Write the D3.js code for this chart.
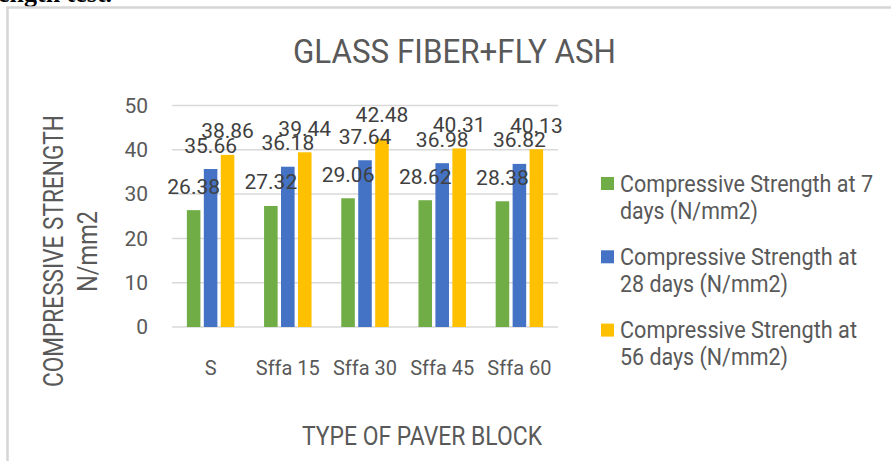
<!DOCTYPE html>
<html>
<head>
<meta charset="utf-8">
<script src="https://d3js.org/d3.v7.min.js"></script>
<style>
body { margin: 0; background: #fff; }
svg { display: block; }
text { font-family: Roboto, "Open Sans", sans-serif; fill: #595959; }
</style>
</head>
<body>
<div id="canvas"></div>
<script>
// data
var categories = ["S", "Sffa 15", "Sffa 30", "Sffa 45", "Sffa 60"];
var seriesNames = ["Compressive Strength at 7 days (N/mm2)",
                   "Compressive Strength at 28 days (N/mm2)",
                   "Compressive Strength at 56 days (N/mm2)"];
var days7  = [26.38, 27.32, 29.06, 28.62, 28.38];
var days28 = [35.66, 36.18, 37.64, 36.98, 36.82];
var days56 = [38.86, 39.44, 42.48, 40.31, 40.13];
var yTicks = [0, 10, 20, 30, 40, 50];
var legendLines = [["Compressive Strength at 7", "days (N/mm2)"],
                   ["Compressive Strength at", "28 days (N/mm2)"],
                   ["Compressive Strength at", "56 days (N/mm2)"]];

var colors = ["#70AD47", "#4472C4", "#FFC000"];
var allSeries = [days7, days28, days56];

var width = 891, height = 461;
var plotLeft = 172, plotRight = 558, plotTop = 105.5, plotBottom = 327;

var svg = d3.select("#canvas").append("svg")
    .attr("width", width).attr("height", height);

svg.append("rect").attr("width", width).attr("height", height).attr("fill", "#fff");

// bit of page text above the chart (cut off)
svg.append("text")
    .attr("x", -2).attr("y", 2)
    .style("font-family", "'Liberation Serif', serif")
    .style("font-weight", "bold")
    .style("font-size", "26px")
    .style("fill", "#000")
    .text("ength test.");

// chart frame
svg.append("rect")
    .attr("x", 7.5).attr("y", 7.5)
    .attr("width", 900).attr("height", 470)
    .attr("fill", "none")
    .attr("stroke", "#d6d6d6")
    .attr("stroke-width", 2.5);

var yScale = d3.scaleLinear().domain([0, 50]).range([plotBottom, plotTop]);
var x0 = d3.scaleBand().domain(categories).range([plotLeft, plotRight])
    .paddingInner(0.385).paddingOuter(0.1925);
var x1 = d3.scaleBand().domain(d3.range(3)).range([0, x0.bandwidth()]).paddingInner(0.2);

// gridlines
svg.append("g").selectAll("line")
    .data(yTicks)
    .enter().append("line")
    .attr("x1", plotLeft).attr("x2", plotRight)
    .attr("y1", function(d) { return yScale(d); })
    .attr("y2", function(d) { return yScale(d); })
    .attr("stroke", "#d9d9d9")
    .attr("stroke-width", 1.5);

// y axis
var yAxis = svg.append("g")
    .attr("transform", "translate(" + plotLeft + ",0)")
    .call(d3.axisLeft(yScale).tickValues(yTicks).tickSize(0).tickPadding(24));
yAxis.select(".domain").remove();
yAxis.selectAll("text")
    .style("font-family", "Roboto, sans-serif")
    .style("font-size", "21px")
    .style("fill", "#595959");

// x axis
var xAxis = svg.append("g")
    .attr("transform", "translate(0," + plotBottom + ")")
    .call(d3.axisBottom(x0).tickSize(0));
xAxis.select(".domain").remove();
xAxis.selectAll("text")
    .attr("y", 48).attr("dy", 0)
    .style("font-family", "Roboto, sans-serif")
    .style("font-size", "20px")
    .style("fill", "#595959");

// bars
var groups = svg.append("g").selectAll("g")
    .data(categories)
    .enter().append("g")
    .attr("transform", function(d) { return "translate(" + x0(d) + ",0)"; });

groups.selectAll("rect")
    .data(function(d, i) { return allSeries.map(function(s, k) { return {k: k, v: s[i]}; }); })
    .enter().append("rect")
    .attr("x", function(d) { return x1(d.k); })
    .attr("width", x1.bandwidth())
    .attr("y", function(d) { return yScale(d.v); })
    .attr("height", function(d) { return plotBottom - yScale(d.v); })
    .attr("fill", function(d) { return colors[d.k]; });

// data labels
groups.selectAll("text.lbl")
    .data(function(d, i) { return allSeries.map(function(s, k) { return {k: k, v: s[i]}; }); })
    .enter().append("text")
    .attr("class", "lbl")
    .attr("x", function(d) { return x1(d.k) + x1.bandwidth() / 2; })
    .attr("y", function(d) { return yScale(d.v) - 16.5; })
    .attr("text-anchor", "middle")
    .style("font-size", "21px")
    .style("fill", "#404040")
    .text(function(d) { return d.v.toFixed(2); });

// title
svg.append("text")
    .attr("x", 293).attr("y", 62.5)
    .attr("textLength", 323).attr("lengthAdjust", "spacingAndGlyphs")
    .style("font-size", "34px")
    .text("GLASS FIBER+FLY ASH");

// y axis title
var yTitle = svg.append("g").attr("transform", "translate(0,251) rotate(-90)");
yTitle.append("text")
    .attr("x", -136).attr("y", 63)
    .attr("textLength", 272).attr("lengthAdjust", "spacingAndGlyphs")
    .style("font-size", "28px")
    .text("COMPRESSIVE STRENGTH");
yTitle.append("text")
    .attr("x", -41).attr("y", 97)
    .attr("textLength", 81).attr("lengthAdjust", "spacingAndGlyphs")
    .style("font-size", "28px")
    .text("N/mm2");

// x axis title
svg.append("text")
    .attr("x", 302).attr("y", 445)
    .attr("textLength", 240).attr("lengthAdjust", "spacingAndGlyphs")
    .style("font-size", "26px")
    .text("TYPE OF PAVER BLOCK");

// legend
var legendWidths = [[253, 138], [237, 168], [237, 168]];
var legend = svg.append("g").selectAll("g")
    .data(seriesNames)
    .enter().append("g")
    .attr("transform", function(d, i) { return "translate(601," + (177 + i * 73.3) + ")"; });
legend.append("rect")
    .attr("width", 13).attr("height", 13)
    .attr("fill", function(d, i) { return colors[i]; });
legend.each(function(d, i) {
    var g = d3.select(this);
    legendLines[i].forEach(function(line, j) {
        g.append("text")
            .attr("x", 19).attr("y", 14.7 + j * 27)
            .attr("textLength", legendWidths[i][j]).attr("lengthAdjust", "spacingAndGlyphs")
            .style("font-size", "23.5px")
            .text(line);
    });
});
</script>
</body>
</html>
